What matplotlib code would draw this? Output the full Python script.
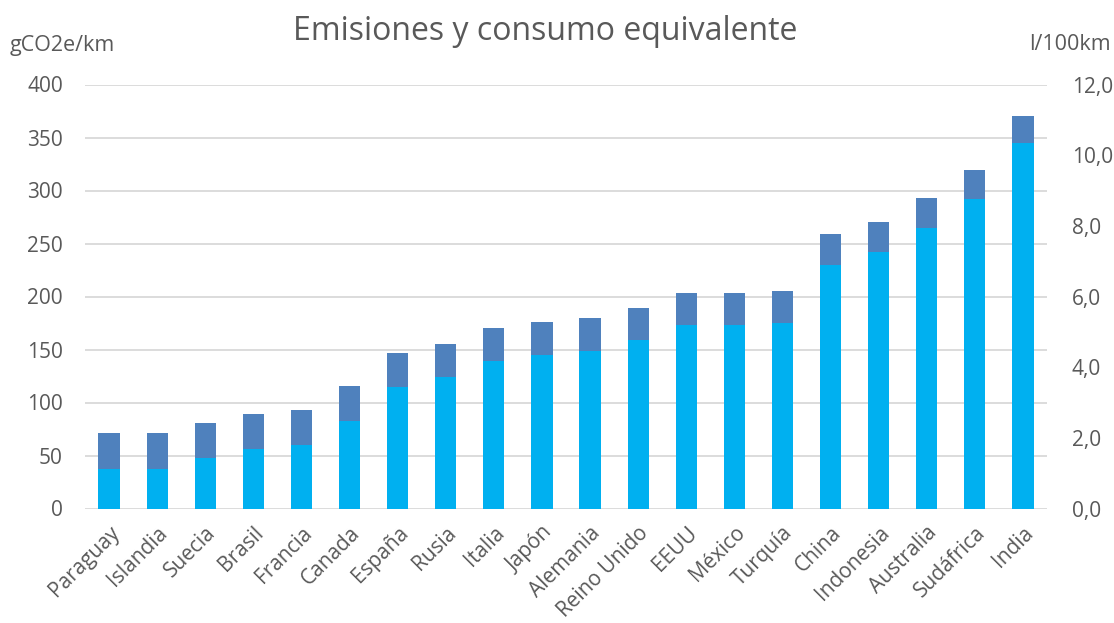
import matplotlib
matplotlib.use("Agg")
import matplotlib.pyplot as plt
from matplotlib.ticker import FuncFormatter, FixedLocator
import numpy as np

# Countries and emissions per km (gCO2e/km), split in two stacked components
paises = ["Paraguay", "Islandia", "Suecia", "Brasil", "Francia", "Canada",
          "España", "Rusia", "Italia", "Japón", "Alemania", "Reino Unido",
          "EEUU", "México", "Turquía", "China", "Indonesia", "Australia",
          "Sudáfrica", "India"]
emis_base = [37, 37, 48, 56, 60, 83, 115, 124, 139, 145, 149, 159, 173, 173,
             175, 230, 242, 265, 292, 345]
emis_extra = [34, 34, 33, 33, 33, 33, 32, 31, 31, 31, 31, 30, 30, 30, 30,
              29, 28, 28, 27, 25]

left_ticks = [0, 50, 100, 150, 200, 250, 300, 350, 400]
right_ticks = [0, 2, 4, 6, 8, 10, 12]

plt.rcParams["font.family"] = ["Open Sans", "DejaVu Sans"]
GREY = "#595959"
GRID = "#d9d9d9"
C_BASE = "#00B0F0"
C_EXTRA = "#4F81BD"

fig = plt.figure(figsize=(11.14, 6.23), dpi=100)
ax = fig.add_axes([85 / 1114, 1 - 508.5 / 623, (1047 - 85) / 1114, (508.5 - 84.5) / 623])

x = np.arange(len(paises))
w = 0.44
ax.bar(x, emis_base, width=w, color=C_BASE, zorder=3)
ax.bar(x, emis_extra, width=w, bottom=emis_base, color=C_EXTRA, zorder=3)

ax.set_xlim(-0.5, len(paises) - 0.5)
ax.set_ylim(0, 400)
ax.yaxis.set_major_locator(FixedLocator(left_ticks))
ax.grid(axis="y", color=GRID, linewidth=1.3, zorder=0)
for s in ax.spines.values():
    s.set_visible(False)
ax.tick_params(axis="y", length=0, pad=16, labelsize=15, labelcolor=GREY)
ax.tick_params(axis="x", length=0, pad=10, labelsize=15, labelcolor=GREY)
ax.set_xticks(x)
ax.set_xticklabels(paises, rotation=45, ha="right", rotation_mode="anchor")

ax2 = ax.twinx()
ax2.set_ylim(0, 12)
ax2.yaxis.set_major_locator(FixedLocator(right_ticks))
ax2.yaxis.set_major_formatter(FuncFormatter(lambda v, p: f"{v:.1f}".replace(".", ",")))
for s in ax2.spines.values():
    s.set_visible(False)
ax2.tick_params(axis="y", length=0, pad=18, labelsize=15, labelcolor=GREY)

fig.text(545 / 1114, 1 - 31 / 623, "Emisiones y consumo equivalente", ha="center", va="center",
         fontsize=23, color=GREY)
fig.text(10 / 1114, 1 - 45 / 623, "gCO2e/km", ha="left", va="center", fontsize=15.5, color=GREY)
fig.text(1111 / 1114, 1 - 45 / 623, "l/100km", ha="right", va="center", fontsize=15.5, color=GREY)

fig.savefig("out.png", dpi=100, facecolor="white")
